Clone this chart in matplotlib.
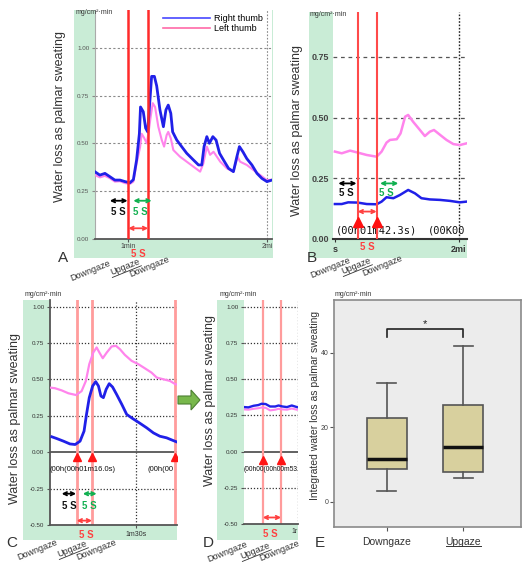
import numpy as np
import matplotlib
matplotlib.use('Agg')
import matplotlib.pyplot as plt
from matplotlib.patches import Rectangle, FancyArrow
from matplotlib.lines import Line2D

plt.rcParams['font.family'] = ['Liberation Sans', 'DejaVu Sans']

# ---------------- data ----------------
A_t_blue = [45.5, 47.7, 49.9, 52.0, 54.2, 56.4, 58.6, 60.7, 62.2, 63.6, 64.8, 65.3, 66.5, 67.5, 68.4, 69.4,
            70.1, 71.3, 72.3, 73.7, 75.2, 76.3, 77.3, 78.4, 79.2, 81.0, 83.1, 85.3, 88.2, 90.4, 91.8, 92.8,
            94.0, 95.1, 96.6, 98.0, 99.5, 101.2, 103.4, 105.5, 107.0, 108.1, 109.6, 111.3, 113.5, 115.7,
            117.8, 120.0, 122.2]
A_blue = [0.352, 0.334, 0.343, 0.326, 0.308, 0.308, 0.300, 0.294, 0.310, 0.413, 0.550, 0.690, 0.665, 0.580,
          0.560, 0.730, 0.850, 0.850, 0.800, 0.675, 0.587, 0.675, 0.700, 0.657, 0.560, 0.517, 0.483, 0.448,
          0.413, 0.387, 0.387, 0.483, 0.535, 0.500, 0.535, 0.517, 0.448, 0.413, 0.369, 0.352, 0.430, 0.483,
          0.456, 0.420, 0.387, 0.343, 0.317, 0.300, 0.308]
A_t_pink = [45.5, 47.7, 49.9, 52.0, 54.2, 56.4, 58.6, 60.7, 62.2, 63.6, 65.1, 65.8, 66.8, 68.0, 68.7, 69.7,
            70.6, 71.6, 73.0, 74.5, 75.5, 76.6, 77.3, 78.4, 79.5, 82.4, 85.3, 88.2, 91.1, 92.5, 94.0, 95.4,
            96.9, 99.8, 102.7, 105.5, 107.3, 108.4, 111.3, 114.2, 117.1, 120.0, 122.2]
A_pink = [0.335, 0.322, 0.330, 0.318, 0.300, 0.302, 0.292, 0.288, 0.300, 0.395, 0.48, 0.55, 0.53, 0.50, 0.55,
          0.64, 0.71, 0.69, 0.587, 0.517, 0.483, 0.543, 0.56, 0.526, 0.465, 0.43, 0.404, 0.378, 0.352, 0.395,
          0.483, 0.44, 0.456, 0.404, 0.369, 0.352, 0.43, 0.404, 0.387, 0.36, 0.334, 0.308, 0.31]
A_marks = [60.0, 68.6]

B_t_pink = [87.4, 89.2, 91.4, 93.4, 95.8, 98.4, 99.7, 101.0, 101.9, 103.7, 104.7, 105.9, 106.7, 108.0, 109.8,
            111.1, 112.4, 113.5, 115.1, 116.8, 118.6, 120.3, 122.1]
B_pink = [0.36, 0.353, 0.364, 0.356, 0.346, 0.339, 0.36, 0.397, 0.408, 0.411, 0.435, 0.504, 0.511, 0.483, 0.449,
          0.424, 0.442, 0.449, 0.429, 0.408, 0.391, 0.387, 0.394]
B_t_blue = [87.4, 89.2, 90.9, 93.4, 95.8, 98.4, 99.7, 101.0, 102.8, 104.5, 106.7, 108.5, 110.2, 112.4, 115.1,
            117.7, 120.3, 122.1]
B_blue = [0.144, 0.144, 0.151, 0.150, 0.144, 0.143, 0.154, 0.172, 0.168, 0.181, 0.202, 0.188, 0.168, 0.163,
          0.161, 0.157, 0.151, 0.154]
B_marks = [93.4, 98.4]

C_t_pink = [62.0, 63.6, 65.8, 68.0, 70.5, 72.3, 73.7, 74.8, 76.1, 77.2, 78.1, 79.2, 80.5, 82.1, 83.5, 84.8,
            86.4, 88.6, 90.8, 92.9, 95.1, 96.8, 99.0, 101.1, 102.9, 103.4]
C_pink = [0.444, 0.44, 0.425, 0.405, 0.393, 0.42, 0.49, 0.605, 0.685, 0.72, 0.685, 0.646, 0.685, 0.727, 0.731,
          0.708, 0.669, 0.628, 0.605, 0.577, 0.547, 0.513, 0.501, 0.49, 0.467, 0.465]
C_t_blue = [62.6, 64.2, 66.4, 68.5, 70.2, 71.8, 73.1, 73.9, 74.8, 75.9, 76.9, 77.8, 78.6, 79.4, 80.3, 81.3,
            82.4, 83.7, 85.4, 87.0, 88.9, 91.1, 93.5, 95.7, 97.8, 100.0, 102.2, 103.3]
C_blue = [0.106, 0.094, 0.076, 0.057, 0.053, 0.076, 0.145, 0.26, 0.375, 0.455, 0.485, 0.455, 0.386, 0.375,
          0.432, 0.471, 0.448, 0.398, 0.329, 0.26, 0.232, 0.202, 0.168, 0.133, 0.11, 0.099, 0.08, 0.071]
C_marks = [70.7, 75.7, 102.9]

D_t = [43.1, 44.2, 45.6, 46.9, 47.8, 48.9, 50.1, 51.5, 52.4, 53.5, 54.7, 56.0, 57.4]
D_blue = [0.308, 0.306, 0.317, 0.322, 0.331, 0.329, 0.312, 0.312, 0.319, 0.312, 0.308, 0.319, 0.308]
D_pink = [0.292, 0.290, 0.296, 0.300, 0.305, 0.303, 0.285, 0.290, 0.296, 0.292, 0.290, 0.298, 0.290]
D_marks = [48.1, 53.1]

E_cats = ['Downgaze', 'Upgaze']
E_whislo = [2.9, 6.5]
E_q1 = [8.8, 8.1]
E_med = [11.4, 14.6]
E_q3 = [22.6, 26.0]
E_whishi = [31.8, 41.9]

# ---------------- layout helpers ----------------
W, H = 525, 564
fig = plt.figure(figsize=(W / 100, H / 100), dpi=100)
fig.patch.set_facecolor('white')


def rect(x0, y0, x1, y1):
    return [x0 / W, 1 - y1 / H, (x1 - x0) / W, (y1 - y0) / H]


def P(x, y):
    return (x / W, 1 - y / H)


GREEN = '#c9ecd6'
BLUE = '#2020e8'
PINK = '#ff84ec'
TXT = '#333333'


def green(x0, y0, x1, y1):
    fig.add_artist(Rectangle(P(x0, y1), (x1 - x0) / W, (y1 - y0) / H, transform=fig.transFigure,
                             facecolor=GREEN, edgecolor='none', zorder=0))


def ftext(x, y, s, **kw):
    kw.setdefault('color', TXT)
    return fig.text(*P(x, y), s, **kw)


def darrow(ax, x1, x2, y, color):
    ax.annotate('', xy=(x2, y), xytext=(x1, y),
                arrowprops=dict(arrowstyle='<->', color=color, lw=1.3, shrinkA=0, shrinkB=0,
                                mutation_scale=6), zorder=6)


ANG = 22
rot_labels = []


def rlab(s, cx, cy, underline=False, size=6.5):
    t = ftext(cx, cy, s, rotation=ANG, rotation_mode='anchor', ha='center', va='center', fontsize=size)
    rot_labels.append((t, s, cx, cy, underline, size))


def clean(ax):
    for sp in ax.spines.values():
        sp.set_visible(False)


# ---------------- Panel A ----------------
green(74, 10, 273, 258)
axA = fig.add_axes(rect(95, 10, 272, 239))
clean(axA)
axA.set_xlim(45.6, 122.2)
axA.set_ylim(0, 1.197)
for v in [0.25, 0.5, 0.75, 1.0]:
    axA.axhline(v, color='#8a8a8a', lw=0.8, ls=(0, (2, 2)), zorder=1)
axA.axvline(120, color='#8a8a8a', lw=0.8, ls=(0, (1.5, 1.5)), zorder=1)
axA.spines['left'].set_visible(True)
axA.spines['left'].set_color('#aaaaaa')
axA.spines['bottom'].set_visible(True)
axA.spines['bottom'].set_color('#555555')
axA.spines['bottom'].set_linewidth(1.3)
axA.plot(A_t_pink, A_pink, color=PINK, lw=1.5, zorder=3)
axA.plot(A_t_blue, A_blue, color=BLUE, lw=2.0, zorder=4)
for m in A_marks:
    axA.axvline(m, color='#ff2a2a', lw=1.8, zorder=5)
axA.set_yticks([0, 0.25, 0.5, 0.75, 1.0])
axA.set_yticklabels(['0.00', '0.25', '0.50', '0.75', '1.00'])
axA.set_xticks([60, 120])
axA.set_xticklabels(['1min', '2mi'])
axA.tick_params(axis='y', length=2, pad=2, labelsize=4.5, labelcolor='#555', color='#888')
axA.tick_params(axis='x', length=2, pad=1, labelsize=5, labelcolor='#444', color='#555')
darrow(axA, 52.0, 59.7, 0.20, 'black')
darrow(axA, 62.2, 70.1, 0.20, '#10b050')
darrow(axA, 60.0, 68.6, 0.056, '#ff4040')
axA.text(55.9, 0.14, '5 S', color='#111', fontsize=7, fontweight='bold', ha='center', va='center')
axA.text(65.1, 0.14, '5 S', color='#10b050', fontsize=7, fontweight='bold', ha='center', va='center')
hA = [Line2D([], [], color='#4848ff', lw=1.2), Line2D([], [], color='#ff6aa8', lw=1.2)]
axA.legend(hA, ['Right thumb', 'Left thumb'], loc='upper left', bbox_to_anchor=P(163, 14),
           bbox_transform=fig.transFigure, frameon=False, fontsize=6.5, handlelength=5.2,
           handletextpad=0.4, labelspacing=0.15, borderaxespad=0, borderpad=0)
ftext(76, 13, 'mg/cm²·min', fontsize=5, ha='left', va='center')
ftext(60, 117, 'Water loss as palmar sweating', rotation=90, fontsize=9, ha='center', va='center')
ftext(138, 253.5, '5 S', color='#ff4040', fontsize=7, fontweight='bold', ha='center', va='center')
ftext(63, 258, 'A', fontsize=11, ha='center', va='center')
rlab('Downgaze', 90, 271)
rlab('Upgaze', 125, 267, underline=True)
rlab('Downgaze', 149, 267)

# ---------------- Panel B ----------------
green(309, 12, 467, 258)
axB = fig.add_axes(rect(333, 12, 467, 239))
clean(axB)
axB.set_xlim(86.9, 122.2)
axB.set_ylim(0, 0.935)
for v in [0.25, 0.5, 0.75]:
    axB.axhline(v, color='#555555', lw=0.9, ls=(0, (3, 3)), zorder=1)
axB.axvline(120, color='#222222', lw=1.0, ls=(0, (1.2, 1.2)), zorder=1)
axB.spines['bottom'].set_visible(True)
axB.spines['bottom'].set_color('#333333')
axB.spines['bottom'].set_linewidth(1.5)
axB.plot(B_t_pink, B_pink, color=PINK, lw=1.8, zorder=3)
axB.plot(B_t_blue, B_blue, color=BLUE, lw=1.8, zorder=4)
for m in B_marks:
    axB.axvline(m, color='#ff4a4a', lw=1.5, zorder=5)
axB.plot(B_marks, [0.072] * len(B_marks), ls='none', marker='^', ms=7, color='#ff1010', zorder=6)
axB.set_yticks([0, 0.25, 0.5, 0.75])
axB.set_yticklabels(['0.00', '0.25', '0.50', '0.75'])
axB.set_xticks([87.4, 120])
axB.set_xticklabels(['s', '2mi'])
axB.tick_params(axis='y', length=0, pad=3, labelsize=6.5, labelcolor='#444')
axB.tick_params(axis='x', length=2, pad=2, labelsize=6.5, labelcolor='#333', color='#333')
for lb in axB.get_yticklabels() + axB.get_xticklabels():
    lb.set_fontweight('bold')
darrow(axB, 88.3, 93.1, 0.229, 'black')
darrow(axB, 99.3, 104.1, 0.229, '#10b050')
darrow(axB, 93.4, 98.4, 0.113, '#ff4040')
axB.text(90.5, 0.19, '5 S', color='#111', fontsize=7, fontweight='bold', ha='center', va='center')
axB.text(100.9, 0.19, '5 S', color='#10b050', fontsize=7, fontweight='bold', ha='center', va='center')
axB.text(98.4, 0.037, '(00h01m42.3s)', family='DejaVu Sans Mono', fontsize=7.5, color='#111',
         ha='center', va='center', clip_on=True)
axB.text(112.0, 0.037, '(00K00', family='DejaVu Sans Mono', fontsize=7.5, color='#111',
         ha='left', va='center', clip_on=True)
ftext(310, 15, 'mg/cm²·min', fontsize=5, ha='left', va='center')
ftext(297, 130, 'Water loss as palmar sweating', rotation=90, fontsize=9, ha='center', va='center')
ftext(367, 247, '5 S', color='#ff4040', fontsize=7, fontweight='bold', ha='center', va='center')
ftext(312, 258, 'B', fontsize=11, ha='center', va='center')
rlab('Downgaze', 330, 268)
rlab('Upgaze', 356, 266, underline=True)
rlab('Downgaze', 382, 266)

# ---------------- Panel C ----------------
green(23, 300, 177, 540)
axC = fig.add_axes(rect(50, 300, 177, 525))
clean(axC)
axC.set_xlim(62.0, 103.4)
axC.set_ylim(-0.5, 1.046)
for v in [1.0, 0.75, 0.5, 0.25, -0.25]:
    axC.axhline(v, color='#333333', lw=0.9, ls=(0, (1, 1.5)), zorder=1)
axC.axvline(90, color='#333333', lw=0.9, ls=(0, (1, 1.5)), zorder=1)
axC.axhline(0, color='#555555', lw=1.3, zorder=2)
for s in ['left', 'bottom']:
    axC.spines[s].set_visible(True)
    axC.spines[s].set_color('#555555')
    axC.spines[s].set_linewidth(1.3)
axC.plot(C_t_pink, C_pink, color=PINK, lw=1.6, zorder=3)
axC.plot(C_t_blue, C_blue, color=BLUE, lw=2.0, zorder=4)
for m in C_marks:
    axC.axvline(m, color='#ff9c9c', lw=2.0, zorder=2.5)
axC.plot(C_marks, [-0.03] * len(C_marks), ls='none', marker='^', ms=6, color='#ff1515', zorder=6)
axC.set_yticks([-0.5, -0.25, 0, 0.25, 0.5, 0.75, 1.0])
axC.set_yticklabels(['-0.50', '-0.25', '0.00', '0.25', '0.50', '0.75', '1.00'])
axC.set_xticks([90])
axC.set_xticklabels(['1m30s'])
axC.tick_params(axis='y', length=2, pad=2, labelsize=4.5, labelcolor='#333', color='#555')
axC.tick_params(axis='x', length=2, pad=2, labelsize=5, labelcolor='#333', color='#555')
darrow(axC, 65.8, 70.5, -0.285, 'black')
darrow(axC, 72.7, 77.2, -0.285, '#10b050')
darrow(axC, 70.7, 75.7, -0.47, '#ff4040')
axC.text(68.3, -0.37, '5 S', color='#111', fontsize=7, fontweight='bold', ha='center', va='center')
axC.text(74.8, -0.37, '5 S', color='#10b050', fontsize=7, fontweight='bold', ha='center', va='center')
axC.text(62.0, -0.117, '(00h(00h01m16.0s)', fontsize=5.5, color='#111', ha='left', va='center', clip_on=True)
axC.text(93.9, -0.117, '(00h(00', fontsize=5.5, color='#111', ha='left', va='center', clip_on=True)
ftext(25, 295, 'mg/cm²·min', fontsize=5, ha='left', va='center')
ftext(15, 418, 'Water loss as palmar sweating', rotation=90, fontsize=9, ha='center', va='center')
ftext(86, 535, '5 S', color='#ff4040', fontsize=7, fontweight='bold', ha='center', va='center')
ftext(12, 543, 'C', fontsize=11, ha='center', va='center')
rlab('Downgaze', 37, 550)
rlab('Upgaze', 72, 549, underline=True)
rlab('Downgaze', 96, 550)

# green block arrow
fig.add_artist(FancyArrow(*P(178, 400), 22 / W, 0, width=8 / H, head_width=20 / H, head_length=9 / W,
                          length_includes_head=True, transform=fig.transFigure,
                          facecolor='#78b84c', edgecolor='#4c7f32', lw=0.8, zorder=5))

# ---------------- Panel D ----------------
green(217, 300, 298, 540)
axD = fig.add_axes(rect(244, 300, 298, 524))
clean(axD)
axD.set_xlim(43.0, 57.7)
axD.set_ylim(-0.5, 1.048)
for v in [1.0, 0.75, 0.5, 0.25, -0.25]:
    axD.axhline(v, color='#333333', lw=0.9, ls=(0, (1, 1.5)), zorder=1)
axD.axvline(57.6, color='#555555', lw=0.9, ls=(0, (1, 1.5)), zorder=1)
axD.axhline(0, color='#555555', lw=1.3, zorder=2)
axD.spines['bottom'].set_visible(True)
axD.spines['bottom'].set_color('#555555')
axD.spines['bottom'].set_linewidth(1.3)
axD.plot(D_t, D_pink, color=PINK, lw=1.5, zorder=3)
axD.plot(D_t, D_blue, color=BLUE, lw=1.7, zorder=4)
for m in D_marks:
    axD.axvline(m, color='#ff9c9c', lw=1.6, zorder=2.5)
axD.plot(D_marks, [-0.055] * len(D_marks), ls='none', marker='^', ms=5.5, color='#ff1515', zorder=6)
axD.set_yticks([-0.5, -0.25, 0, 0.25, 0.5, 0.75, 1.0])
axD.set_yticklabels(['-0.50', '-0.25', '0.00', '0.25', '0.50', '0.75', '1.00'])
axD.set_xticks([56.9])
axD.set_xticklabels(['1r'])
axD.tick_params(axis='y', length=2, pad=2, labelsize=4.5, labelcolor='#333', color='#555')
axD.tick_params(axis='x', length=0, pad=3, labelsize=5, labelcolor='#333')
darrow(axD, 48.1, 53.1, -0.455, '#ff4040')
axD.text(43.0, -0.125, '(00h00(00h00m53.1s', fontsize=4.8, color='#111', ha='left', va='center', clip_on=True)
ftext(220, 295, 'mg/cm²·min', fontsize=5, ha='left', va='center')
ftext(210, 400, 'Water loss as palmar sweating', rotation=90, fontsize=9, ha='center', va='center')
ftext(270, 534, '5 S', color='#ff4040', fontsize=7, fontweight='bold', ha='center', va='center')
ftext(208, 543, 'D', fontsize=11, ha='center', va='center')
rlab('Downgaze', 227, 552)
rlab('Upgaze', 255, 551, underline=True)
rlab('Downgaze', 279, 551)

# ---------------- Panel E ----------------
axE = fig.add_axes(rect(334, 300, 521, 527))
axE.set_facecolor('#ececec')
for sp in axE.spines.values():
    sp.set_color('#8a8a8a')
    sp.set_linewidth(1.2)
stats = []
for i in range(len(E_cats)):
    stats.append(dict(label=E_cats[i], whislo=E_whislo[i], q1=E_q1[i], med=E_med[i], q3=E_q3[i],
                      whishi=E_whishi[i], fliers=[]))
axE.bxp(stats, positions=[1, 2], widths=0.52, capwidths=0.25, patch_artist=True, showfliers=False,
        boxprops=dict(facecolor='#d8d09e', edgecolor='#555555', lw=1.2),
        medianprops=dict(color='#111111', lw=2.5),
        whiskerprops=dict(color='#555555', lw=1.2),
        capprops=dict(color='#555555', lw=1.2))
axE.set_xlim(0.312, 2.753)
axE.set_ylim(-6.8, 54.2)
axE.set_yticks([0, 20, 40])
axE.set_yticklabels(['0', '20', '40'])
axE.set_xticks([1, 2])
axE.set_xticklabels(E_cats)
axE.tick_params(axis='y', length=3, pad=1, labelsize=5, labelcolor='#444', color='#555')
axE.tick_params(axis='x', length=3, pad=4, labelsize=7.5, labelcolor='#333', color='#555')
axE.plot([1, 1, 2, 2], [44.3, 46.3, 46.3, 44.3], color='#222222', lw=1.2)
axE.text(1.5, 47.6, '*', ha='center', va='center', fontsize=8, color='#222')
ftext(335, 295, 'mg/cm²·min', fontsize=5, ha='left', va='center')
ftext(315, 405, 'Integrated water loss as palmar sweating', rotation=90, fontsize=7.5, ha='center', va='center')
ftext(320, 543, 'E', fontsize=11, ha='center', va='center')

# ---------------- underlines ----------------
fig.canvas.draw()
renderer = fig.canvas.get_renderer()
th = np.deg2rad(ANG)
for t, s, cx, cy, ul, size in rot_labels:
    if not ul:
        continue
    tmp = fig.text(0, 0, s, fontsize=size)
    w = tmp.get_window_extent(renderer).width
    tmp.remove()
    d = size * 1.389 * 0.55
    # pixel coords, y up
    x0, y0 = cx, H - cy
    ux, uy = np.cos(th), np.sin(th)
    px, py = np.sin(th), -np.cos(th)
    xs = [x0 - ux * w / 2 + px * d, x0 + ux * w / 2 + px * d]
    ys = [y0 - uy * w / 2 + py * d, y0 + uy * w / 2 + py * d]
    fig.add_artist(Line2D([x / W for x in xs], [y / H for y in ys], transform=fig.transFigure,
                          color=TXT, lw=0.6))
# underline E tick label "Upgaze"
for lb in axE.get_xticklabels():
    if lb.get_text() == 'Upgaze':
        bb = lb.get_window_extent(renderer)
        fig.add_artist(Line2D([bb.x0 / W, bb.x1 / W], [(bb.y0 + 0.5) / H] * 2, transform=fig.transFigure,
                              color=TXT, lw=0.7))

fig.savefig('out.png', dpi=100)
